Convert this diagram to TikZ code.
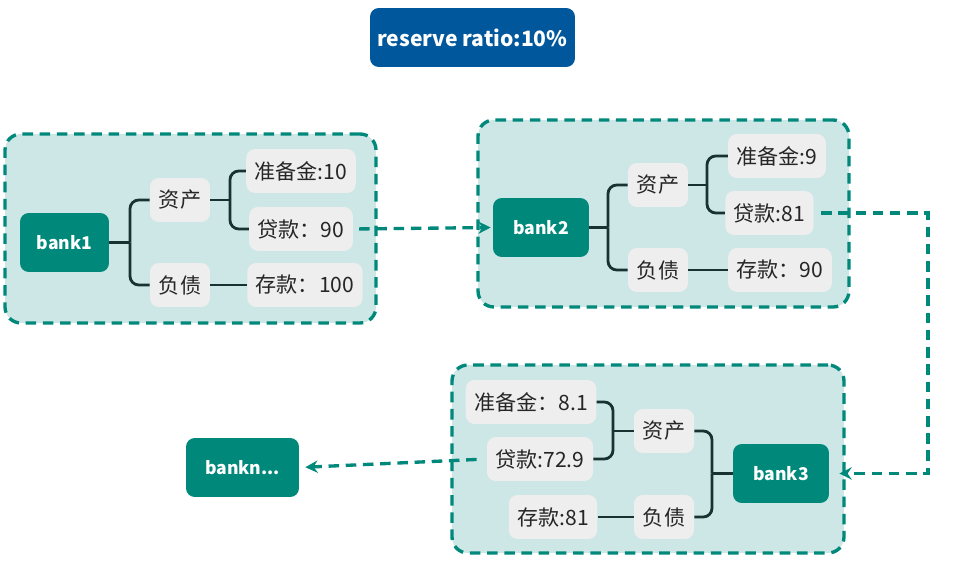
\documentclass[tikz,border=0pt]{standalone}
\usepackage{fontspec}
\setmainfont{Noto Sans CJK SC}
\usetikzlibrary{arrows.meta}
\definecolor{bankteal}{HTML}{00897B}
\definecolor{groupfill}{HTML}{CDE6E6}
\definecolor{leafgray}{HTML}{EEEEEE}
\definecolor{branchcol}{HTML}{173230}
\definecolor{ratioblue}{HTML}{00579C}
\tikzstyle{bank}=[rectangle,rounded corners=5pt,fill=bankteal,text=white,minimum width=1.8cm,minimum height=1.18cm,font=\bfseries]
\tikzstyle{cat}=[rectangle,rounded corners=5pt,fill=leafgray,text=black!85,minimum width=1.2cm,minimum height=0.88cm]
\tikzstyle{leaf}=[rectangle,rounded corners=5pt,fill=leafgray,text=black!85,minimum height=0.88cm,inner xsep=0.17cm]
\tikzstyle{group}=[rectangle,draw=bankteal,fill=groupfill,line width=1.9pt,dash pattern=on 6pt off 3.8pt,rounded corners=9pt]
\tikzstyle{branch}=[draw=branchcol,line width=1.6pt,rounded corners=5pt]
\tikzstyle{flow}=[draw=bankteal,line width=1.9pt,dash pattern=on 6pt off 3.8pt,-{Stealth[length=7pt,width=7pt]}]

\begin{document}
\begin{tikzpicture}[x=0.02cm,y=-0.02cm,font=\fontsize{12pt}{14pt}\selectfont]
\useasboundingbox (0,0) rectangle (964,577);
\node[rectangle,rounded corners=5pt,fill=ratioblue,text=white,minimum width=4.1cm,minimum height=1.18cm,font=\fontsize{12pt}{14pt}\selectfont\bfseries] at (472.5, 37.5) (ratio) {reserve ratio:10\%};

% bank1
\node[group,minimum width=7.42cm,minimum height=3.78cm] at (190.5, 228.5) (g1) {};
\node[bank,minimum width=1.78cm] at (64.5, 242.5) (bank1) {bank1};
\node[cat] at (180, 200) (zc1) {资产};
\node[cat] at (180, 285) (fz1) {负债};
\node[leaf] at (301, 171) (zbj1) {准备金:10};
\node[leaf] at (301, 229) (dk1) {贷款：90};
\node[leaf] at (305, 285) (ck1) {存款：100};
\coordinate (j1) at (130, 242.5);
\coordinate (k1) at (230, 200);
\draw[branch] (bank1.east) -- (j1);
\draw[branch] (j1) |- (zc1.west);
\draw[branch] (j1) |- (fz1.west);
\draw[branch] (zc1.east) -- (k1);
\draw[branch] (k1) |- (zbj1.west);
\draw[branch] (k1) |- (dk1.west);
\draw[branch] (fz1.east) -- (ck1.west);

% bank2
\node[group,minimum width=7.42cm,minimum height=3.74cm] at (663.5, 213.5) (g2) {};
\node[bank,minimum width=1.92cm] at (541, 227.5) (bank2) {bank2};
\node[cat] at (658, 185) (zc2) {资产};
\node[cat] at (658, 270) (fz2) {负债};
\node[leaf] at (777, 156) (zbj2) {准备金:9};
\node[leaf] at (769.5, 213) (dk2) {贷款:81};
\node[leaf] at (780, 270) (ck2) {存款：90};
\coordinate (j2) at (608, 227.5);
\coordinate (k2) at (707, 185);
\draw[branch] (bank2.east) -- (j2);
\draw[branch] (j2) |- (zc2.west);
\draw[branch] (j2) |- (fz2.west);
\draw[branch] (zc2.east) -- (k2);
\draw[branch] (k2) |- (zbj2.west);
\draw[branch] (k2) |- (dk2.west);
\draw[branch] (fz2.east) -- (ck2.west);

% bank3
\node[group,minimum width=7.84cm,minimum height=3.76cm] at (648, 459) (g3) {};
\node[bank,minimum width=1.92cm] at (781, 473.5) (bank3) {bank3};
\node[cat] at (664, 431) (zc3) {资产};
\node[cat] at (664, 517) (fz3) {负债};
\node[leaf] at (531, 402) (zbj3) {准备金：8.1};
\node[leaf] at (540, 459) (dk3) {贷款:72.9};
\node[leaf] at (553, 517) (ck3) {存款:81};
\coordinate (j3) at (712, 473.5);
\coordinate (k3) at (613, 431);
\draw[branch] (bank3.west) -- (j3);
\draw[branch] (j3) |- (zc3.east);
\draw[branch] (j3) |- (fz3.east);
\draw[branch] (zc3.west) -- (k3);
\draw[branch] (k3) |- (zbj3.east);
\draw[branch] (k3) |- (dk3.east);
\draw[branch] (fz3.west) -- (ck3.east);

\node[bank,minimum width=2.26cm] at (242.5, 467.5) (bankn) {bankn...};

% loans flow on
\coordinate (c1) at (928, 473.5);
\draw[flow,shorten <=0.12cm,shorten >=0.04cm] (dk1.east) -- (bank2.west);
\draw[flow,shorten <=0.14cm,shorten >=0.2cm] (dk2.east) -| (c1) -- (bank3.east);
\draw[flow,shorten <=0.2cm,shorten >=0.12cm] (dk3.west) -- (bankn.east);
\end{tikzpicture}
\end{document}
